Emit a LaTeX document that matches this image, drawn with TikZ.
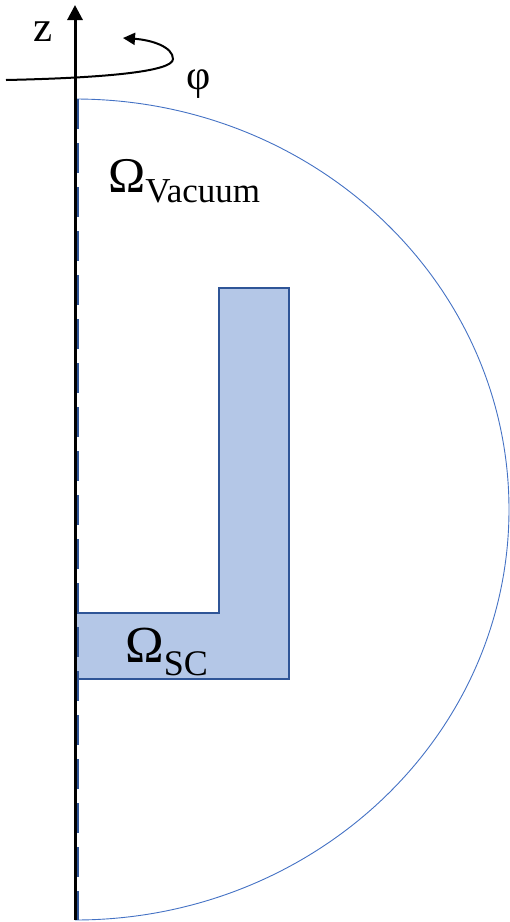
\documentclass[tikz,border=0pt]{standalone}
\usepackage{fontspec}
\setmainfont{Liberation Serif}
\usetikzlibrary{arrows.meta}
\definecolor{scfill}{HTML}{B4C7E7}
\definecolor{scdraw}{HTML}{2F5597}
\definecolor{vacline}{HTML}{4472C4}
\tikzset{
  axisline/.style={line width=3pt, black, -{Triangle[length=15pt,width=15pt]}},
  rotline/.style={line width=2pt, black, -{Triangle[length=12pt,width=12pt]}},
  symline/.style={line width=3pt, scdraw, dash pattern=on 30pt off 14pt},
  vacuum/.style={line width=0.9pt, vacline},
  scregion/.style={fill=scfill, draw=scdraw, line width=1.8pt, line join=miter},
  lbl/.style={inner sep=0pt, anchor=base west, font=\fontsize{43}{43}\selectfont}
}
\begin{document}
\begin{tikzpicture}[x=1pt,y=-1pt]
\useasboundingbox (0,0) rectangle (510,922);
% vacuum boundary
\draw[vacuum] (75,99) arc[start angle=90, end angle=-90, x radius=434pt, y radius=410.5pt];
% superconductor L shape
\draw[scregion] (219,288) -- (289,288) -- (289,679) -- (76,679) -- (76,613) -- (219,613) -- cycle;
% symmetry axis (dashed blue under black axis)
\coordinate (symtop) at (77,99);
\coordinate (symbot) at (77,920);
\draw[symline] (symtop) -- (symbot);
\coordinate (axbot) at (75,920);
\coordinate (axtop) at (75,5);
\draw[axisline] (axbot) -- (axtop);
% rotation arrow
\coordinate (rotstart) at (6,80);
\coordinate (rotend) at (123,38);
\draw[rotline] (rotstart) .. controls (100,78) and (173,72) .. (173,59) .. controls (173,47) and (152,40) .. (rotend);
% labels
\node[lbl] (z) at (33,41) {z};
\node[lbl, font=\fontsize{42}{42}\selectfont] (phi) at (186,89) {φ};
\node[lbl, font=\fontsize{50}{50}\selectfont] (omv) at (108,192) {Ω\raisebox{-10pt}{\fontsize{35}{35}\selectfont Vacuum}};
\node[lbl, font=\fontsize{52}{52}\selectfont] (omsc) at (125,662) {Ω\raisebox{-13pt}{\fontsize{36}{36}\selectfont SC}};
\end{tikzpicture}
\end{document}
